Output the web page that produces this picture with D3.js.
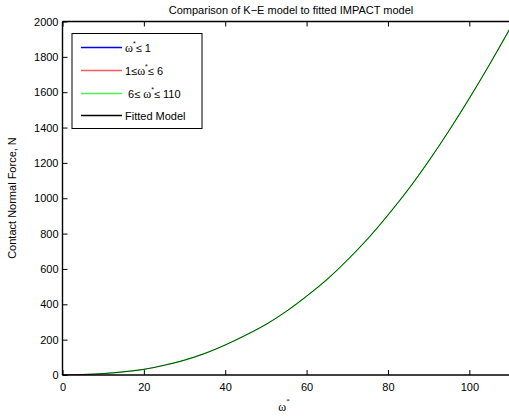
<!DOCTYPE html>
<html>
<head>
<meta charset="utf-8">
<script src="https://cdn.jsdelivr.net/npm/d3@7"></script>
<style>
  html, body { margin: 0; padding: 0; background: #fff; }
  svg { display: block; font-family: "Liberation Sans", Arial, Helvetica, sans-serif; }
</style>
</head>
<body>
<svg id="chart" width="509" height="418"></svg>
<script>
// Contact normal force (N) against dimensionless frequency omega*
const omega = [0, 1, 2, 3, 4, 5, 6, 8, 10, 15, 20, 25, 30, 35, 40, 45, 50, 55, 60,
               65, 70, 75, 80, 85, 90, 95, 100, 105, 110];
const force = [0, 0.1, 0.4, 0.9, 1.6, 2.5, 3.5, 5.5, 8, 18, 32, 55, 84, 122, 170, 225,
               286, 360, 446, 540, 650, 770, 905, 1050, 1210, 1382, 1565, 1758, 1960];

// Regime boundaries for the K-E model pieces
const segments = [
  { name: "low",  lo: 0, hi: 1,   color: "#0000ff" },
  { name: "mid",  lo: 1, hi: 6,   color: "#ff2020" },
  { name: "high", lo: 6, hi: 110, color: "#20e020" }
];

const xTicks = [0, 20, 40, 60, 80, 100];
const yTicks = [0, 200, 400, 600, 800, 1000, 1200, 1400, 1600, 1800, 2000];

const svg = d3.select("#chart");
const mLeft = 62.5, mRight = 510, mTop = 21.5, mBottom = 375;

const x = d3.scaleLinear().domain([0, 110]).range([mLeft, mRight]);
const y = d3.scaleLinear().domain([0, 2000]).range([mBottom, mTop]);

const pts = omega.map((w, i) => ({ w, f: force[i] }));
const line = d3.line().x(d => x(d.w)).y(d => y(d.f)).curve(d3.curveMonotoneX);

svg.append("clipPath").attr("id", "plotclip")
  .append("rect").attr("x", mLeft).attr("y", mTop)
  .attr("width", mRight - mLeft).attr("height", mBottom - mTop);

const plot = svg.append("g").attr("clip-path", "url(#plotclip)");

segments.forEach(s => {
  plot.append("path")
    .datum(pts.filter(p => p.w >= s.lo && p.w <= s.hi))
    .attr("fill", "none")
    .attr("stroke", s.color)
    .attr("stroke-width", 1.2)
    .attr("d", line);
});

// Fitted model on top
plot.append("path")
  .datum(pts)
  .attr("fill", "none")
  .attr("stroke", "#000")
  .attr("stroke-width", 0.8)
  .attr("opacity", 0.85)
  .attr("d", line);

// Axes (ticks inward, top and bottom)
const axFont = 11;
const bottomAxis = svg.append("g").attr("transform", `translate(0,${mBottom})`)
  .call(d3.axisBottom(x).tickValues(xTicks).tickSize(-5).tickPadding(8).tickFormat(d3.format("d")));
const topAxis = svg.append("g").attr("transform", `translate(0,${mTop})`)
  .call(d3.axisTop(x).tickValues(xTicks).tickSize(-5).tickFormat(""));
const leftAxis = svg.append("g").attr("transform", `translate(${mLeft},0)`)
  .call(d3.axisLeft(y).tickValues(yTicks).tickSize(-5).tickPadding(4).tickFormat(d3.format("d")));

[bottomAxis, topAxis, leftAxis].forEach(g => {
  g.select(".domain").attr("stroke", "#000").attr("stroke-width", 1.4);
  g.selectAll(".tick line").attr("stroke", "#000").attr("stroke-width", 1);
  g.selectAll("text").attr("font-size", axFont).attr("fill", "#000")
    .attr("font-family", "Liberation Sans, Arial, sans-serif");
});
bottomAxis.selectAll(".domain").attr("d", `M${mLeft},0H${mRight}`);
topAxis.selectAll(".domain").attr("d", `M${mLeft},0H${mRight}`);
leftAxis.selectAll(".domain").attr("d", `M0,${mBottom}V${mTop}`);

// Title
svg.append("text")
  .attr("x", 291).attr("y", 14)
  .attr("text-anchor", "middle")
  .attr("font-size", 11)
  .text("Comparison of K\u2212E model to fitted IMPACT model");

// X label: omega with superscript asterisk
const xl = svg.append("text")
  .attr("x", 284).attr("y", 411)
  .attr("text-anchor", "middle")
  .attr("font-size", 12)
  .attr("font-family", "Liberation Serif, Times New Roman, serif");
xl.append("tspan").text("\u03c9");
xl.append("tspan").attr("dy", -8).attr("font-size", 7).text("*");

// Y label
svg.append("text")
  .attr("transform", "translate(16,198) rotate(-90)")
  .attr("text-anchor", "middle")
  .attr("font-size", 11)
  .text("Contact Normal Force, N");

// Legend
const legendItems = [
  { color: "#0000ff", parts: [["\u03c9", "serif"], ["*", "sup"], ["\u2264 1", "sans"]] },
  { color: "#ff5a5a", parts: [["1\u2264", "sans"], ["\u03c9", "serif"], ["*", "sup"], ["\u2264 6", "sans"]] },
  { color: "#50f050", parts: [[" 6\u2264 ", "sans"], ["\u03c9", "serif"], ["*", "sup"], ["\u2264 110", "sans"]] },
  { color: "#000000", parts: [["Fitted Model", "sans"]] }
];
const lg = svg.append("g");
lg.append("rect")
  .attr("x", 72).attr("y", 33.5).attr("width", 130).attr("height", 95)
  .attr("fill", "#fff").attr("stroke", "#000").attr("stroke-width", 1);
const rowY = [47.5, 70.5, 93.5, 115.5];
legendItems.forEach((it, i) => {
  lg.append("line")
    .attr("x1", 81).attr("x2", 122)
    .attr("y1", rowY[i]).attr("y2", rowY[i])
    .attr("stroke", it.color).attr("stroke-width", 1.3);
  const t = lg.append("text")
    .attr("x", 125).attr("y", rowY[i] + 4)
    .attr("font-size", 11)
    .attr("xml:space", "preserve");
  let raised = false;
  it.parts.forEach(([s, kind]) => {
    const sp = t.append("tspan").text(s);
    if (kind === "serif") {
      sp.attr("font-family", "Liberation Serif, Times New Roman, serif").attr("font-size", 12);
      if (raised) { sp.attr("dy", 6); raised = false; }
    } else if (kind === "sup") {
      sp.attr("dy", -6).attr("font-size", 7);
      raised = true;
    } else {
      if (raised) { sp.attr("dy", 6); raised = false; }
    }
  });
});
</script>
</body>
</html>
